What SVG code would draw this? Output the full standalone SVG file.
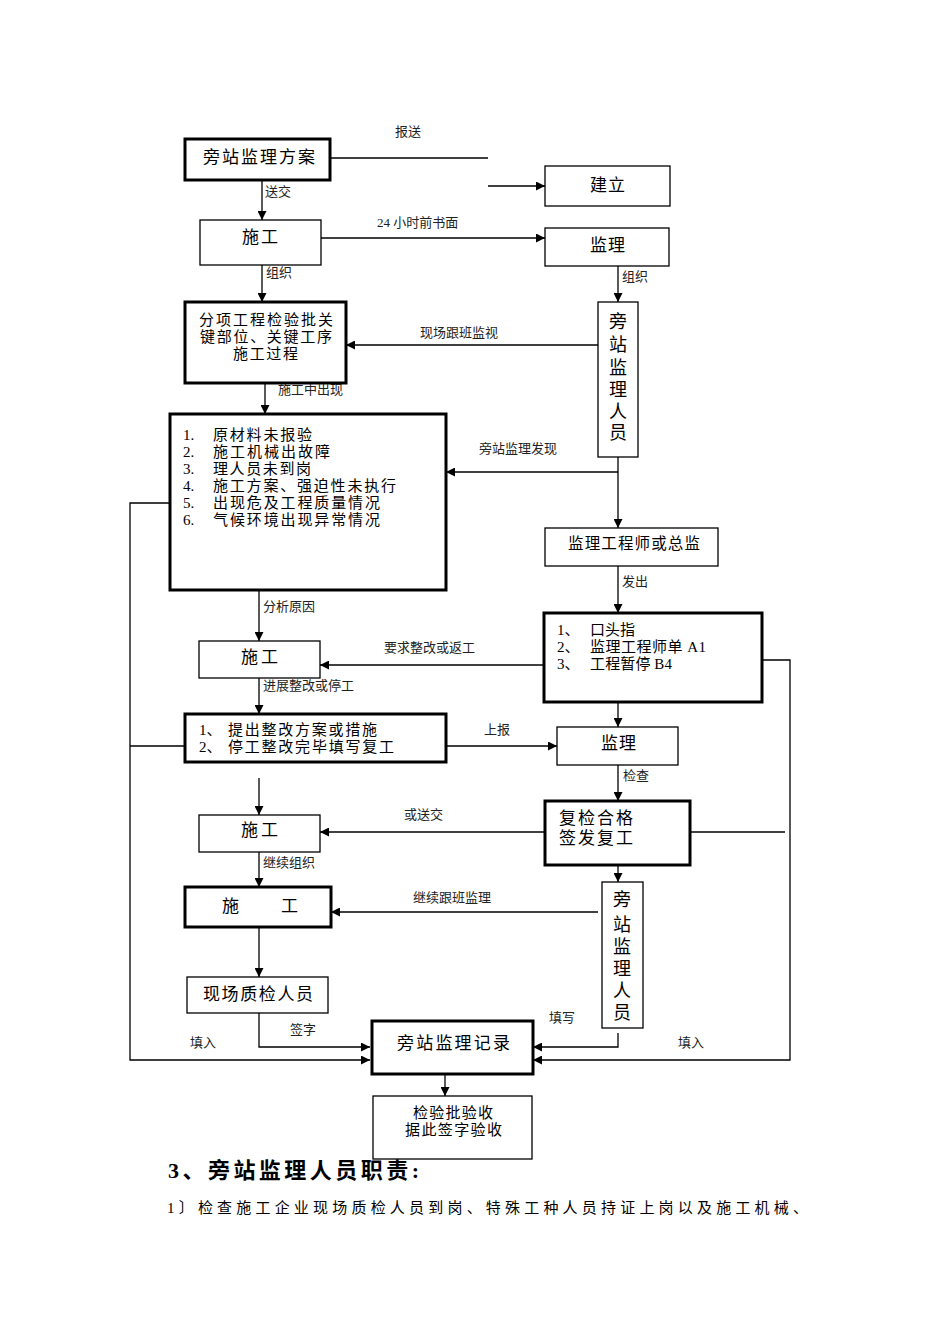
<svg xmlns="http://www.w3.org/2000/svg" width="950" height="1344" viewBox="0 0 950 1344">
<defs>
<marker id="ah" viewBox="0 0 10 10" refX="10" refY="5" markerWidth="9" markerHeight="9" markerUnits="userSpaceOnUse" orient="auto">
<path d="M0,0 L10,5 L0,10 z" fill="#000"/>
</marker>
<style>
text{font-family:"Liberation Serif","Noto Sans CJK SC",serif;fill:#000}
.b{font-size:17px}
.m{font-size:15px}
.s{font-size:13px;fill:#222}
.v{font-size:18px;text-anchor:middle}
.thin{fill:#fff;stroke:#000;stroke-width:1.3}
.thick{fill:#fff;stroke:#000;stroke-width:3}
.ln{fill:none;stroke:#000;stroke-width:1.3}
.ar{fill:none;stroke:#000;stroke-width:1.3;marker-end:url(#ah)}
</style>
</defs>
<rect width="950" height="1344" fill="#fff"/>

<g id="connectors">
<path class="ln" d="M330,158 H488"/>
<path class="ar" d="M488,186 H545"/>
<path class="ar" d="M262,180 V220"/>
<path class="ar" d="M321,238 H545"/>
<path class="ar" d="M262,265 V302"/>
<path class="ar" d="M618,266 V302"/>
<path class="ar" d="M598,345 H346"/>
<path class="ar" d="M265,383 V414"/>
<path class="ln" d="M618,457 V472"/>
<path class="ar" d="M618,472 H446"/>
<path class="ar" d="M618,472 V528"/>
<path class="ar" d="M618,566 V613"/>
<path class="ar" d="M544,665 H320"/>
<path class="ar" d="M259,590 V641"/>
<path class="ar" d="M259,678 V714"/>
<path class="ar" d="M446,746 H557"/>
<path class="ar" d="M618,702 V727"/>
<path class="ar" d="M618,765 V801"/>
<path class="ar" d="M545,832 H320"/>
<path class="ar" d="M259,778 V815"/>
<path class="ln" d="M690,832 H785"/>
<path class="ar" d="M762,660 H790 V1060 H533"/>
<path class="ar" d="M170,503 H130 V1060 H370"/>
<path class="ln" d="M185,746 H130"/>
<path class="ar" d="M259,852 V887"/>
<path class="ar" d="M598,912 H331"/>
<path class="ar" d="M618,865 V882"/>
<path class="ar" d="M259,927 V977"/>
<path class="ar" d="M259,1013 V1047 H370"/>
<path class="ar" d="M618,1033 V1047 H533"/>
<path class="ar" d="M445,1074 V1096"/>
</g>

<g id="labels">
<text class="s" x="408" y="136" text-anchor="middle">报送</text>
<text class="s" x="265" y="196">送交</text>
<text class="s" x="377" y="227">24 小时前书面</text>
<text class="s" x="266" y="277">组织</text>
<text class="s" x="622" y="281">组织</text>
<text class="s" x="420" y="337">现场跟班监视</text>
<text class="s" x="278" y="394">施工中出现</text>
<text class="s" x="479" y="453">旁站监理发现</text>
<text class="s" x="622" y="586">发出</text>
<text class="s" x="263" y="611">分析原因</text>
<text class="s" x="384" y="652">要求整改或返工</text>
<text class="s" x="263" y="690">进展整改或停工</text>
<text class="s" x="484" y="734">上报</text>
<text class="s" x="623" y="780">检查</text>
<text class="s" x="404" y="819">或送交</text>
<text class="s" x="263" y="867">继续组织</text>
<text class="s" x="413" y="902">继续跟班监理</text>
<text class="s" x="290" y="1034">签字</text>
<text class="s" x="190" y="1047">填入</text>
<text class="s" x="549" y="1022">填写</text>
<text class="s" x="678" y="1047">填入</text>
</g>

<g id="n-plan">
<rect class="thick" x="185" y="139" width="145" height="41"/>
<text class="b" x="203" y="163" textLength="112" lengthAdjust="spacing">旁站监理方案</text>
</g>
<g id="n-jianli">
<rect class="thin" x="545" y="166" width="125" height="40"/>
<text class="b" x="590" y="191" textLength="35" lengthAdjust="spacing">建立</text>
</g>
<g id="n-sg1">
<rect class="thin" x="200" y="220" width="121" height="45"/>
<text class="b" x="242" y="243" textLength="36" lengthAdjust="spacing">施工</text>
</g>
<g id="n-jl1">
<rect class="thin" x="545" y="228" width="124" height="38"/>
<text class="b" x="590" y="251" textLength="35" lengthAdjust="spacing">监理</text>
</g>
<g id="n-fx">
<rect class="thick" x="185" y="302" width="161" height="81"/>
<text class="m" x="199" y="325" textLength="134" lengthAdjust="spacing">分项工程检验批关</text>
<text class="m" x="200" y="342" textLength="132" lengthAdjust="spacing">键部位、关键工序</text>
<text class="m" x="233" y="359" textLength="65" lengthAdjust="spacing">施工过程</text>
</g>
<g id="n-pz1">
<rect class="thin" x="598" y="302" width="40" height="155"/>
<text class="v" x="618" y="328">旁</text>
<text class="v" x="618" y="351">站</text>
<text class="v" x="618" y="374">监</text>
<text class="v" x="618" y="396">理</text>
<text class="v" x="618" y="418">人</text>
<text class="v" x="618" y="439">员</text>
</g>
<g id="n-list">
<rect class="thick" x="170" y="414" width="276" height="176"/>
<text class="m" x="183" y="440">1.</text><text class="m" x="213" y="440" textLength="99" lengthAdjust="spacing">原材料未报验</text>
<text class="m" x="183" y="457">2.</text><text class="m" x="213" y="457" textLength="117" lengthAdjust="spacing">施工机械出故障</text>
<text class="m" x="183" y="474">3.</text><text class="m" x="213" y="474" textLength="98" lengthAdjust="spacing">理人员未到岗</text>
<text class="m" x="183" y="491">4.</text><text class="m" x="213" y="491" textLength="183" lengthAdjust="spacing">施工方案、强迫性未执行</text>
<text class="m" x="183" y="508">5.</text><text class="m" x="213" y="508" textLength="167" lengthAdjust="spacing">出现危及工程质量情况</text>
<text class="m" x="183" y="525">6.</text><text class="m" x="213" y="525" textLength="167" lengthAdjust="spacing">气候环境出现异常情况</text>
</g>
<g id="n-zj">
<rect class="thin" x="545" y="528" width="173" height="38"/>
<text x="568" y="549" font-size="15.5" textLength="132" lengthAdjust="spacing">监理工程师或总监</text>
</g>
<g id="n-kt">
<rect class="thick" x="544" y="613" width="218" height="89"/>
<text class="m" x="557" y="635">1、</text><text class="m" x="590" y="635" textLength="45" lengthAdjust="spacing">口头指</text>
<text class="m" x="557" y="652">2、</text><text class="m" x="590" y="652" textLength="116" lengthAdjust="spacing">监理工程师单 A1</text>
<text class="m" x="557" y="669">3、</text><text class="m" x="590" y="669" textLength="82" lengthAdjust="spacing">工程暂停 B4</text>
</g>
<g id="n-sg2">
<rect class="thin" x="199" y="641" width="121" height="37"/>
<text class="b" x="241" y="663" textLength="37" lengthAdjust="spacing">施工</text>
</g>
<g id="n-tc">
<rect class="thick" x="185" y="714" width="261" height="48"/>
<text class="m" x="199" y="735">1、</text><text class="m" x="228" y="735" textLength="149" lengthAdjust="spacing">提出整改方案或措施</text>
<text class="m" x="199" y="752">2、</text><text class="m" x="228" y="752" textLength="166" lengthAdjust="spacing">停工整改完毕填写复工</text>
</g>
<g id="n-jl2">
<rect class="thin" x="557" y="727" width="121" height="38"/>
<text class="b" x="601" y="749" textLength="35" lengthAdjust="spacing">监理</text>
</g>
<g id="n-fj">
<rect class="thick" x="545" y="801" width="145" height="64"/>
<text class="b" x="559" y="824" textLength="74" lengthAdjust="spacing">复检合格</text>
<text class="b" x="559" y="844" textLength="74" lengthAdjust="spacing">签发复工</text>
</g>
<g id="n-sg3">
<rect class="thin" x="199" y="815" width="121" height="37"/>
<text class="b" x="241" y="836" textLength="37" lengthAdjust="spacing">施工</text>
</g>
<g id="n-sg4">
<rect class="thick" x="185" y="887" width="146" height="40"/>
<text class="b" x="222" y="912">施</text>
<text class="b" x="281" y="912">工</text>
</g>
<g id="n-pz2">
<rect class="thin" x="602" y="882" width="41" height="146"/>
<text class="v" x="622" y="906">旁</text>
<text class="v" x="622" y="931">站</text>
<text class="v" x="622" y="953">监</text>
<text class="v" x="622" y="975">理</text>
<text class="v" x="622" y="997">人</text>
<text class="v" x="622" y="1019">员</text>
</g>
<g id="n-zj2">
<rect class="thin" x="187" y="977" width="141" height="36"/>
<text class="b" x="203" y="1000" textLength="110" lengthAdjust="spacing">现场质检人员</text>
</g>
<g id="n-record">
<rect class="thick" x="372" y="1021" width="161" height="53"/>
<text class="b" x="397" y="1049" textLength="113" lengthAdjust="spacing">旁站监理记录</text>
</g>
<g id="n-ys">
<rect class="thin" x="373" y="1096" width="159" height="63"/>
<text class="m" x="413" y="1118" textLength="80" lengthAdjust="spacing">检验批验收</text>
<text class="m" x="405" y="1135" textLength="97" lengthAdjust="spacing">据此签字验收</text>
</g>

<g id="body">
<text x="168" y="1178" font-size="22" font-weight="bold" textLength="251" lengthAdjust="spacing">3、旁站监理人员职责:</text>
<text x="167" y="1213" font-size="15" textLength="641" lengthAdjust="spacing">1〕检查施工企业现场质检人员到岗、特殊工种人员持证上岗以及施工机械、</text>
</g>
</svg>
